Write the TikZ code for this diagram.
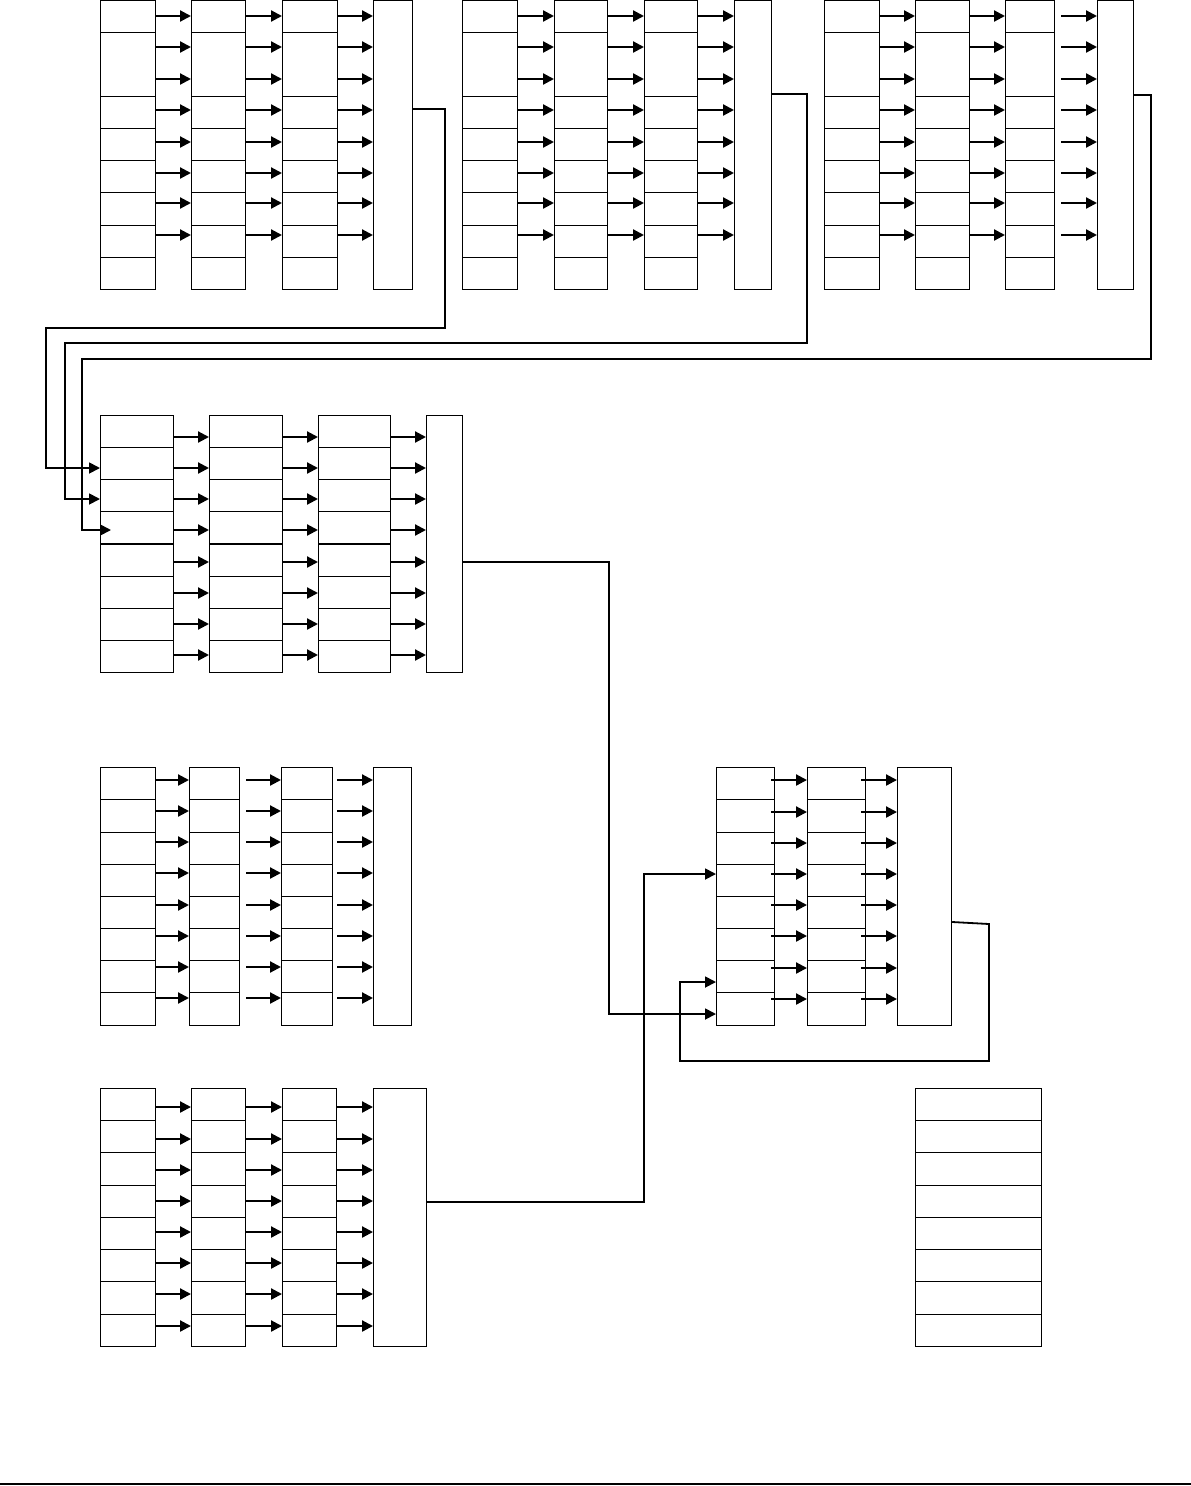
\documentclass[tikz,border=0pt]{standalone}
\usepackage{tikz}
\usetikzlibrary{arrows.meta,calc}

\begin{document}
\begin{tikzpicture}[x=1pt, y=-1pt,
    cell/.style={rectangle, draw, line width=1.2pt, inner sep=0pt, anchor=north west},
    arrow/.style={->, line width=2.2pt, >={Triangle[length=11pt,width=11pt]}},
    link/.style={->, line width=1.8pt, >={Triangle[length=11pt,width=11pt]}}]

    \useasboundingbox (0,0) rectangle (1191,1486);

    % Top row: three blocks, second cell is double height
    \foreach \c/\x/\w in {a/100/55,b/191/54,c/282/55}
        \foreach \y/\h [count=\r] in {0/32,32/64,96/32,128/32,160/32,192/33,225/32,257/32}
            \node[cell, minimum width=\w pt, minimum height=\h pt] (t1\c\r) at (\x,\y) {};
    \node[cell, minimum width=39pt, minimum height=289pt] (t1d) at (373,0) {};

    \foreach \c/\x/\w in {a/462/55,b/554/53,c/644/53}
        \foreach \y/\h [count=\r] in {0/32,32/64,96/32,128/32,160/32,192/33,225/32,257/32}
            \node[cell, minimum width=\w pt, minimum height=\h pt] (t2\c\r) at (\x,\y) {};
    \node[cell, minimum width=37pt, minimum height=289pt] (t2d) at (734,0) {};

    \foreach \c/\x/\w in {a/824/55,b/915/54,c/1005/49}
        \foreach \y/\h [count=\r] in {0/32,32/64,96/32,128/32,160/32,192/33,225/32,257/32}
            \node[cell, minimum width=\w pt, minimum height=\h pt] (t3\c\r) at (\x,\y) {};
    \node[cell, minimum width=36pt, minimum height=289pt] (t3d) at (1097,0) {};

    % Middle block
    \foreach \c/\x/\w in {a/100/73,b/209/73,c/318/72}
        \foreach \y [count=\r] in {415,447,479,511,544,576,608,640}
            \node[cell, minimum width=\w pt, minimum height=32pt] (m\c\r) at (\x,\y) {};
    \node[cell, minimum width=36pt, minimum height=257pt] (md) at (426,415) {};

    % Lower left block
    \foreach \c/\x/\w in {a/100/55,b/189/50,c/281/51}
        \foreach \y/\h [count=\r] in {767/32,799/33,832/32,864/32,896/32,928/32,960/32,992/33}
            \node[cell, minimum width=\w pt, minimum height=\h pt] (l\c\r) at (\x,\y) {};
    \node[cell, minimum width=38pt, minimum height=258pt] (ld) at (373,767) {};

    % Right block
    \foreach \c/\x/\w in {a/716/58,b/807/58}
        \foreach \y/\h [count=\r] in {767/32,799/33,832/32,864/32,896/32,928/32,960/32,992/33}
            \node[cell, minimum width=\w pt, minimum height=\h pt] (r\c\r) at (\x,\y) {};
    \node[cell, minimum width=54pt, minimum height=258pt] (rc) at (897,767) {};

    % Bottom left block
    \foreach \c/\x/\w in {a/100/55,b/191/54,c/282/54}
        \foreach \y/\h [count=\r] in {1088/32,1120/32,1152/33,1185/32,1217/32,1249/32,1281/33,1314/32}
            \node[cell, minimum width=\w pt, minimum height=\h pt] (b\c\r) at (\x,\y) {};
    \node[cell, minimum width=53pt, minimum height=258pt] (bd) at (373,1088) {};

    % Stack
    \foreach \y/\h [count=\r] in {1088/32,1120/32,1152/33,1185/32,1217/32,1249/32,1281/33,1314/32}
        \node[cell, minimum width=126pt, minimum height=\h pt] (s\r) at (915,\y) {};

    % Arrows inside blocks
    \foreach \y in {16,47,79,110,142,173,203,235} {
        \draw[arrow] (t1a1.east |- 0,\y) -- (t1b1.west |- 0,\y);
        \draw[arrow] (t1b1.east |- 0,\y) -- (t1c1.west |- 0,\y);
        \draw[arrow] (t1c1.east |- 0,\y) -- (t1d.west |- 0,\y);
        \draw[arrow] (t2a1.east |- 0,\y) -- (t2b1.west |- 0,\y);
        \draw[arrow] (t2b1.east |- 0,\y) -- (t2c1.west |- 0,\y);
        \draw[arrow] (t2c1.east |- 0,\y) -- (t2d.west |- 0,\y);
        \draw[arrow] (t3a1.east |- 0,\y) -- (t3b1.west |- 0,\y);
        \draw[arrow] (t3b1.east |- 0,\y) -- (t3c1.west |- 0,\y);
        \draw[arrow] ($(t3c1.east |- 0,\y)+(6,0)$) -- (t3d.west |- 0,\y);
    }
    \foreach \y in {437,468,499,530,562,593,624,655} {
        \draw[arrow] (ma1.east |- 0,\y) -- (mb1.west |- 0,\y);
        \draw[arrow] (mb1.east |- 0,\y) -- (mc1.west |- 0,\y);
        \draw[arrow] (mc1.east |- 0,\y) -- (md.west |- 0,\y);
    }
    \foreach \y in {780,811,842,873,905,936,967,998} {
        \draw[arrow] (la1.east |- 0,\y) -- (lb1.west |- 0,\y);
        \draw[arrow] ($(lb1.east |- 0,\y)+(6,0)$) -- (lc1.west |- 0,\y);
        \draw[arrow] ($(lc1.east |- 0,\y)+(4,0)$) -- (ld.west |- 0,\y);
    }
    \foreach \y in {780,812,843,874,905,936,968,999} {
        \draw[arrow] ($(ra1.east |- 0,\y)+(-4,0)$) -- (rb1.west |- 0,\y);
        \draw[arrow] ($(rb1.east |- 0,\y)+(-5,0)$) -- (rc.west |- 0,\y);
    }
    \foreach \y in {1107,1139,1170,1201,1232,1263,1294,1326} {
        \draw[arrow] (ba1.east |- 0,\y) -- (bb1.west |- 0,\y);
        \draw[arrow] (bb1.east |- 0,\y) -- (bc1.west |- 0,\y);
        \draw[arrow] (bc1.east |- 0,\y) -- (bd.west |- 0,\y);
    }

    % Links between blocks
    \draw[link] (t1d.east |- 0,109) -- (445,109) -- (445,328) -- (46,328) -- (46,468) -- (ma2.west |- 0,468);
    \draw[link] (t2d.east |- 0,94) -- (807,94) -- (807,343) -- (65,343) -- (65,499) -- (ma3.west |- 0,499);
    \draw[link] (t3d.east |- 0,95) -- (1151,95) -- (1151,359) -- (82,359) -- (82,530) -- ($(ma4.west |- 0,530)+(11,0)$);
    \draw[link] (md.east |- 0,562) -- (609,562) -- (609,1014) -- (ra8.west |- 0,1014);
    \draw[link] (bd.east |- 0,1202) -- (644,1202) -- (644,874) -- (ra4.west |- 0,874);
    \draw[link] (rc.east |- 0,922) -- (989,924) -- (989,1061) -- (680,1061) -- (680,982) -- (ra7.west |- 0,982);

    % Bottom rule
    \draw[line width=1.5pt] (0,1484) -- (1191,1484);
\end{tikzpicture}
\end{document}
